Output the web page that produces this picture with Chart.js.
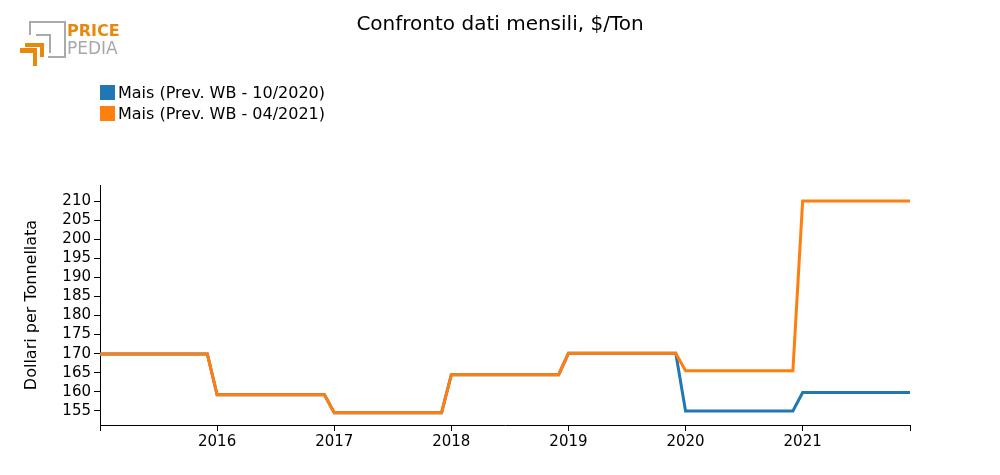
<!DOCTYPE html>
<html>
<head>
<meta charset="utf-8">
<script src="https://cdn.jsdelivr.net/npm/chart.js@4"></script>
<style>
  body { margin: 0; background: #fff; font-family: "DejaVu Sans", sans-serif; }
  #wrap { position: relative; width: 1000px; height: 475px; }
  .logo-bar { position: absolute; }
  .title { position: absolute; left: 0; width: 1000px; top: 11px; text-align: center; font-size: 20px; line-height: 24px; color: #000; }
  .leg { position: absolute; left: 100px; font-size: 16px; color: #000; white-space: nowrap; line-height: 19px; }
  .leg span { display: inline-block; width: 15px; height: 15px; vertical-align: -2px; margin-right: 3px; }
</style>
</head>
<body>
<div id="wrap">
  <canvas id="chartjs-0" width="1000" height="475"></canvas>

  <div class="title">Confronto dati mensili, $/Ton</div>

  <!-- logo -->
  <div class="logo-bar" style="left:29px;top:21px;width:35px;height:35px;border:2px solid #aaa;border-left:none;border-bottom:none;"></div>
  <div class="logo-bar" style="left:29px;top:21px;width:2px;height:14px;background:#aaa;"></div>
  <div class="logo-bar" style="left:48px;top:56px;width:18px;height:2px;background:#aaa;"></div>
  <div class="logo-bar" style="left:36px;top:34px;width:13px;height:17px;border:2px solid #aaa;border-left:none;border-bottom:none;"></div>
  <div class="logo-bar" style="left:25px;top:43px;width:18px;height:4px;background:#e8890c;"></div>
  <div class="logo-bar" style="left:40px;top:43px;width:4px;height:14px;background:#e8890c;"></div>
  <div class="logo-bar" style="left:20px;top:48px;width:17px;height:5px;background:#e8890c;"></div>
  <div class="logo-bar" style="left:33px;top:48px;width:4px;height:18px;background:#e8890c;"></div>
  <div class="logo-bar" style="left:67px;top:21px;font-size:16px;font-weight:bold;color:#e8890c;line-height:19px;">PRICE</div>
  <div class="logo-bar" style="left:67px;top:38px;font-size:17px;color:#a8a8a8;line-height:20px;">PEDIA</div>

  <div class="leg" style="top:83px;"><span style="background:#1f77b4"></span>Mais (Prev. WB - 10/2020)</div>
  <div class="leg" style="top:104px;"><span style="background:#ff7f0e"></span>Mais (Prev. WB - 04/2021)</div>
</div>
<script>
"use strict";

// months Jan 2015 .. Dec 2021, index 0..83
var seriesNames = ["Mais (Prev. WB - 10/2020)", "Mais (Prev. WB - 04/2021)"];
var yearLabels = ["2015", "2016", "2017", "2018", "2019", "2020", "2021"];
var yTicks = [155, 160, 165, 170, 175, 180, 185, 190, 195, 200, 205, 210];

var maisOct2020 = [
    169.9, 169.9, 169.9, 169.9, 169.9, 169.9, 169.9, 169.9, 169.9, 169.9, 169.9, 169.9,
    159.2, 159.2, 159.2, 159.2, 159.2, 159.2, 159.2, 159.2, 159.2, 159.2, 159.2, 159.2,
    154.5, 154.5, 154.5, 154.5, 154.5, 154.5, 154.5, 154.5, 154.5, 154.5, 154.5, 154.5,
    164.5, 164.5, 164.5, 164.5, 164.5, 164.5, 164.5, 164.5, 164.5, 164.5, 164.5, 164.5,
    170.1, 170.1, 170.1, 170.1, 170.1, 170.1, 170.1, 170.1, 170.1, 170.1, 170.1, 170.1,
    155.0, 155.0, 155.0, 155.0, 155.0, 155.0, 155.0, 155.0, 155.0, 155.0, 155.0, 155.0,
    159.8, 159.8, 159.8, 159.8, 159.8, 159.8, 159.8, 159.8, 159.8, 159.8, 159.8, 159.8
];
var maisApr2021 = [
    169.9, 169.9, 169.9, 169.9, 169.9, 169.9, 169.9, 169.9, 169.9, 169.9, 169.9, 169.9,
    159.2, 159.2, 159.2, 159.2, 159.2, 159.2, 159.2, 159.2, 159.2, 159.2, 159.2, 159.2,
    154.5, 154.5, 154.5, 154.5, 154.5, 154.5, 154.5, 154.5, 154.5, 154.5, 154.5, 154.5,
    164.5, 164.5, 164.5, 164.5, 164.5, 164.5, 164.5, 164.5, 164.5, 164.5, 164.5, 164.5,
    170.1, 170.1, 170.1, 170.1, 170.1, 170.1, 170.1, 170.1, 170.1, 170.1, 170.1, 170.1,
    165.5, 165.5, 165.5, 165.5, 165.5, 165.5, 165.5, 165.5, 165.5, 165.5, 165.5, 165.5,
    210.0, 210.0, 210.0, 210.0, 210.0, 210.0, 210.0, 210.0, 210.0, 210.0, 210.0, 210.0
];

function toPoints(arr) {
    var pts = [];
    for (var i = 0; i < arr.length; i++) {
        pts.push({x: i, y: arr[i]});
    }
    return pts;
}

var fontFamily = "'DejaVu Sans', sans-serif";
Chart.defaults.font.family = fontFamily;
Chart.defaults.color = "#000";

var ctx0 = document.getElementById("chartjs-0");
var myChart = new Chart(ctx0, {
    type: "line",
    data: {
        datasets: [
            {label: seriesNames[1], data: toPoints(maisApr2021), borderColor: "#ff7f0e", borderWidth: 3, pointRadius: 0, tension: 0, fill: false, order: 0},
            {label: seriesNames[0], data: toPoints(maisOct2020), borderColor: "#1f77b4", borderWidth: 3, pointRadius: 0, tension: 0, fill: false, order: 1}
        ]
    },
    options: {
        responsive: false,
        animation: false,
        events: [],
        layout: {padding: {left: 0, right: 90, top: 185, bottom: 0}},
        plugins: {
            legend: {display: false},
            tooltip: {enabled: false},
            title: {display: false}
        },
        scales: {
            x: {
                type: "linear",
                min: 0,
                max: 83,
                grid: {drawOnChartArea: false, drawTicks: true, tickLength: 6, color: "#000"},
                border: {display: true, color: "#000", width: 1},
                ticks: {
                    autoSkip: false,
                    maxRotation: 0,
                    padding: 2,
                    font: {size: 15},
                    callback: function (v) {
                        if (v > 0 && v % 12 === 0) {
                            return yearLabels[v / 12];
                        }
                        return "";
                    }
                },
                afterBuildTicks: function (scale) {
                    var t = [];
                    for (var i = 0; i < yearLabels.length; i++) {
                        t.push({value: i * 12});
                    }
                    t.push({value: 83});
                    scale.ticks = t;
                },
                afterFit: function (scale) { scale.height = 50; }
            },
            y: {
                min: 151.3,
                max: 214.2,
                grid: {drawOnChartArea: false, drawTicks: true, tickLength: 6, color: "#000"},
                border: {display: true, color: "#000", width: 1},
                ticks: {padding: 3, font: {size: 15}},
                afterBuildTicks: function (scale) {
                    scale.ticks = yTicks.map(function (v) { return {value: v}; });
                },
                afterFit: function (scale) { scale.width = 100; },
                title: {
                    display: true,
                    text: "Dollari per Tonnellata",
                    color: "#000",
                    font: {size: 16, lineHeight: 1.2},
                    padding: {top: 22, bottom: 0}
                }
            }
        }
    }
});
</script>
</body>
</html>
